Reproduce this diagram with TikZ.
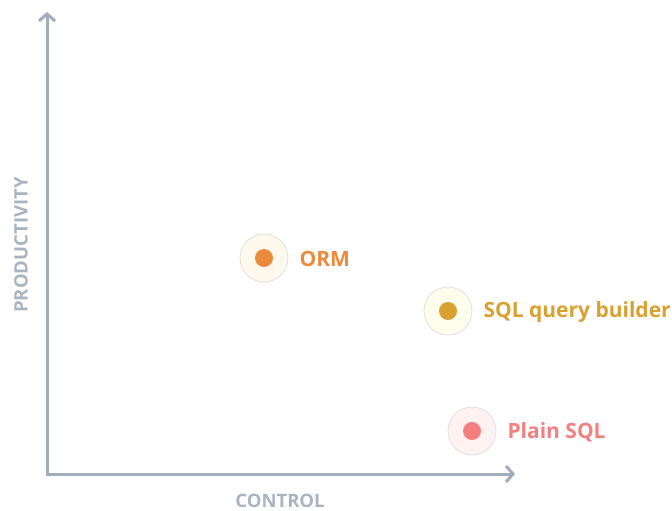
\documentclass[tikz,border=0pt]{standalone}
\usepackage{fontspec}
\setmainfont{Open Sans}
\usetikzlibrary{arrows.meta}
\definecolor{axisgray}{HTML}{A2ACBB}
\definecolor{labelgray}{HTML}{A9B3C1}
\definecolor{ormcol}{HTML}{EA8A3A}
\definecolor{ormbg}{HTML}{FFF8EC}
\definecolor{qbcol}{HTML}{D9A132}
\definecolor{qbbg}{HTML}{FFFDEC}
\definecolor{sqlcol}{HTML}{F57F7F}
\definecolor{sqlbg}{HTML}{FFF2F1}
\tikzset{
  axis/.style={draw=axisgray, line width=3pt, -{Straight Barb[length=7pt,width=16pt,line width=3pt]}},
  halo/.style={circle, minimum size=48pt, inner sep=0pt, draw=black!15, line width=0.6pt},
  dot/.style={circle, minimum size=18pt, inner sep=0pt},
  tag/.style={anchor=west, font=\bfseries\fontsize{21pt}{25pt}\selectfont},
  axislabel/.style={text=labelgray, font=\bfseries\fontsize{18.5pt}{22pt}\selectfont}
}
\begin{document}
\begin{tikzpicture}[x=1pt,y=-1pt]
  \useasboundingbox (0,0) rectangle (672,511);
  % axes
  \coordinate (origin) at (47,474);
  \coordinate (ytip) at (47,12);
  \coordinate (xtip) at (515,474);
  \draw[axis] ([yshift=1.5pt]origin) -- (ytip);
  \draw[axis] ([xshift=-1.5pt]origin) -- (xtip);
  \node[axislabel] (xl) at (280,501) {CONTROL};
  \node[axislabel, rotate=90] (yl) at (21,245) {PRODUCTIVITY};
  % data points
  \node[halo, fill=ormbg] (orm) at (264,258) {};
  \node[dot, fill=ormcol] at (orm) {};
  \node[tag, text=ormcol] (ormt) at (296,259) {ORM};
  \node[halo, fill=qbbg] (qb) at (448,311) {};
  \node[dot, fill=qbcol] at (qb) {};
  \node[tag, text=qbcol] (qbt) at (480,312) {SQL query builder};
  \node[halo, fill=sqlbg] (sql) at (472,431) {};
  \node[dot, fill=sqlcol] at (sql) {};
  \node[tag, text=sqlcol] (sqlt) at (504,432) {Plain SQL};
\end{tikzpicture}
\end{document}
